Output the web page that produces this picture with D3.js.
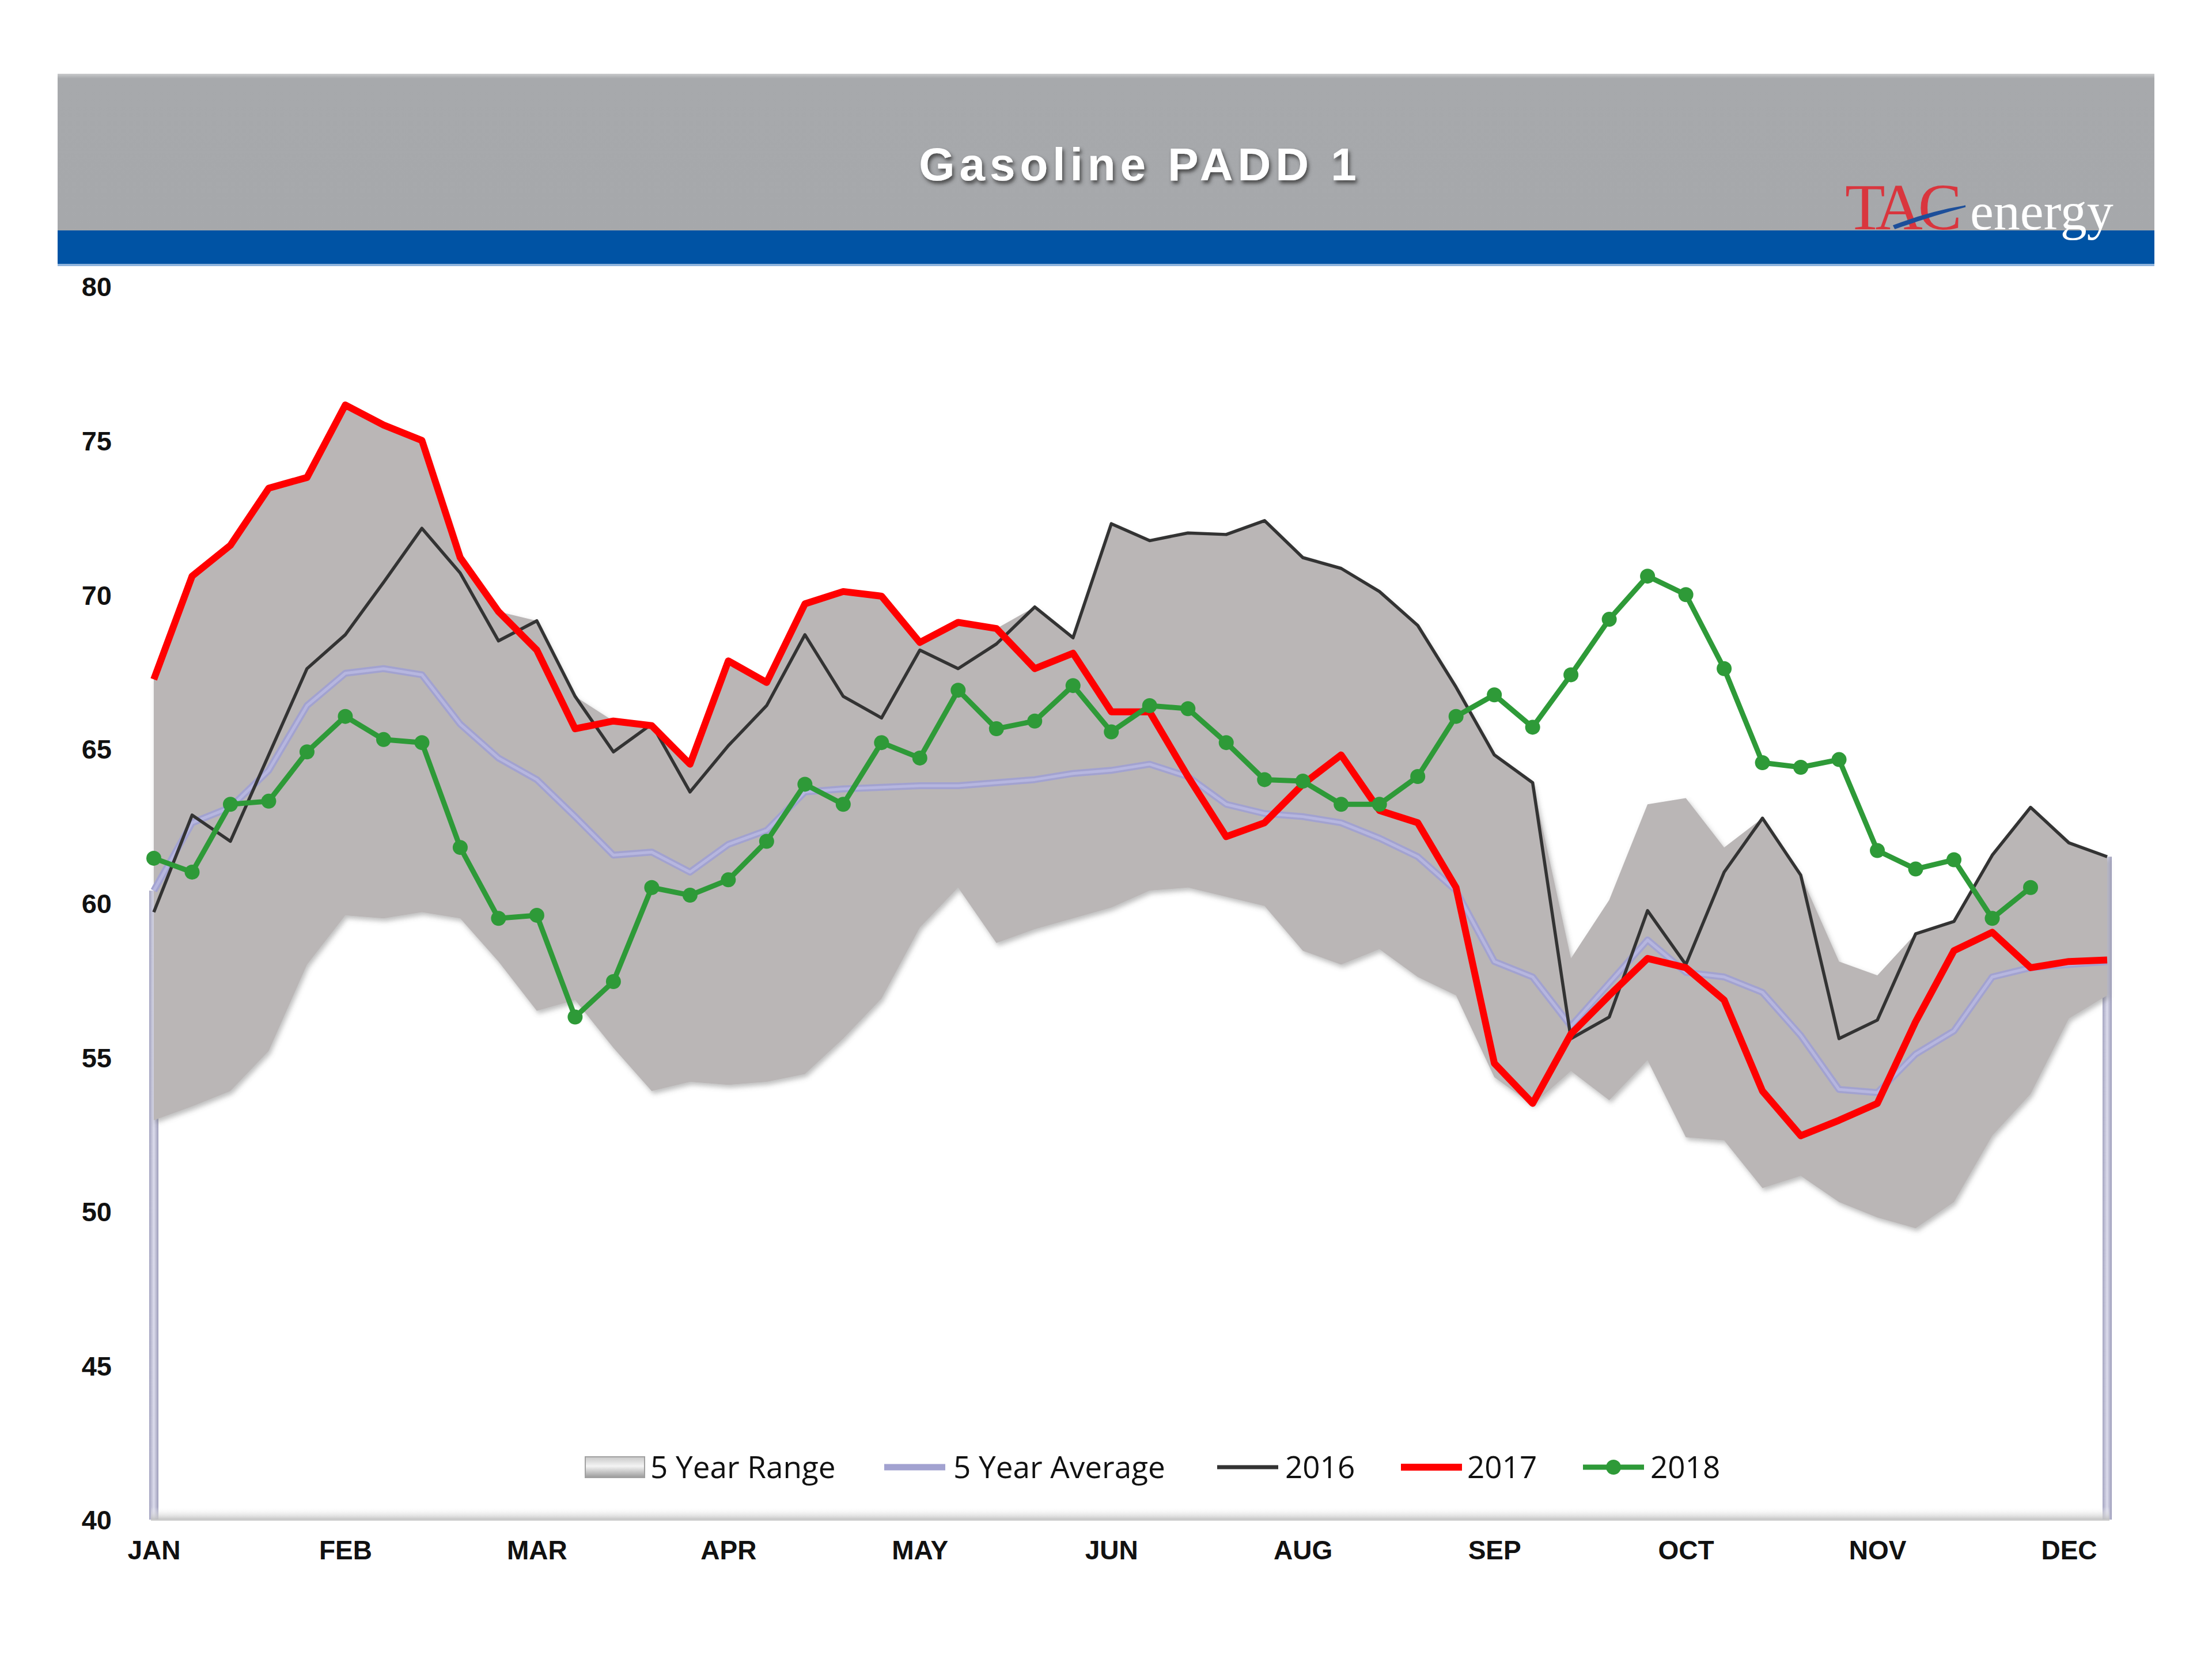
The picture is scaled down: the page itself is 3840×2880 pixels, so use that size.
<!DOCTYPE html>
<html><head><meta charset="utf-8">
<script src="https://cdn.jsdelivr.net/npm/d3@7/dist/d3.min.js"></script>
<style>body{margin:0;background:#fff}svg{display:block}</style>
</head><body>
<svg id="chart" width="3840" height="2880"></svg>
<script>
const title = "Gasoline PADD 1";
const weeks = [1,2,3,4,5,6,7,8,9,10,11,12,13,14,15,16,17,18,19,20,21,22,23,24,25,26,27,28,29,30,31,32,33,34,35,36,37,38,39,40,41,42,43,44,45,46,47,48,49,50,51,52];
const tickWeeks = [1,6,11,16,21,26,31,36,41,46,51];
const tickLabels = ["JAN","FEB","MAR","APR","MAY","JUN","AUG","SEP","OCT","NOV","DEC"];
const yTicks = [40,45,50,55,60,65,70,75,80];

const rangeLow = [52.95,53.4,53.9,55.2,58.0,59.6,59.5,59.7,59.5,58.1,56.5,56.85,55.3,53.9,54.2,54.1,54.2,54.45,55.6,56.9,59.2,60.5,58.7,59.15,59.5,59.85,60.4,60.5,60.2,59.9,58.45,58.0,58.5,57.6,57.0,54.35,53.45,54.55,53.6,54.9,52.4,52.3,50.75,51.15,50.3,49.8,49.45,50.3,52.45,53.8,56.25,57.0];
const rangeHigh = [67.25,70.6,71.6,73.45,73.8,76.15,75.5,75.0,71.2,69.45,69.15,66.7,65.9,65.8,64.5,67.85,67.15,69.7,70.1,69.95,68.45,69.1,68.9,69.6,68.6,72.3,71.75,72.0,71.95,72.4,71.2,70.85,70.1,69.0,67.0,64.8,63.9,58.2,60.1,63.2,63.4,61.8,62.75,60.9,58.1,57.65,59.0,59.4,61.55,63.1,61.95,61.5];
const avg5 = [60.4,62.6,63.1,64.3,66.4,67.45,67.6,67.4,65.8,64.7,64.0,62.8,61.55,61.65,61.0,61.9,62.35,63.6,63.7,63.75,63.8,63.8,63.9,64.0,64.2,64.3,64.5,64.1,63.2,62.9,62.8,62.6,62.1,61.5,60.4,58.1,57.6,56.0,57.4,58.8,57.75,57.6,57.1,55.7,53.95,53.85,55.1,55.85,57.6,57.9,58.0,58.1];
const y2016 = [59.7,62.85,62.0,64.8,67.6,68.7,70.4,72.15,70.7,68.5,69.15,66.7,64.9,65.8,63.6,65.1,66.4,68.7,66.7,66.0,68.2,67.6,68.4,69.6,68.6,72.3,71.75,72.0,71.95,72.4,71.2,70.85,70.1,69.0,67.0,64.8,63.9,55.6,56.3,59.75,58.0,61.0,62.75,60.9,55.6,56.2,59.0,59.4,61.55,63.1,61.95,61.5];
const y2017 = [67.25,70.6,71.6,73.45,73.8,76.15,75.5,75.0,71.2,69.45,68.2,65.65,65.9,65.75,64.5,67.85,67.15,69.7,70.1,69.95,68.45,69.1,68.9,67.6,68.1,66.2,66.2,64.1,62.15,62.6,63.85,64.8,63.0,62.6,60.5,54.8,53.5,55.75,57.0,58.2,57.9,56.85,53.9,52.45,52.95,53.5,56.15,58.45,59.05,57.9,58.1,58.15];
const y2018 = [61.45,61.0,63.2,63.3,64.9,66.05,65.3,65.2,61.8,59.5,59.6,56.3,57.45,60.5,60.25,60.75,62.0,63.85,63.2,65.2,64.7,66.9,65.65,65.9,67.05,65.55,66.4,66.3,65.2,64.0,63.95,63.2,63.2,64.1,66.05,66.75,65.7,67.4,69.2,70.6,70.0,67.6,64.55,64.4,64.65,61.7,61.1,61.4,59.5,60.5];
const legendNames = ["5 Year Range","5 Year Average","2016","2017","2018"];

const svg = d3.select("#chart");
const defs = svg.append("defs");

// ---------- header ----------
const hg = defs.append("linearGradient").attr("id","hdr").attr("x1",0).attr("y1",0).attr("x2",0).attr("y2",1);
hg.append("stop").attr("offset",0).attr("stop-color","#c9cacc");
hg.append("stop").attr("offset",0.03).attr("stop-color","#a7a9ac");
hg.append("stop").attr("offset",1).attr("stop-color","#a6a8ab");
svg.append("rect").attr("x",100).attr("y",128).attr("width",3640).attr("height",274).attr("fill","url(#hdr)");
svg.append("rect").attr("x",100).attr("y",400).attr("width",3640).attr("height",62).attr("fill","#0053a4");
svg.append("rect").attr("x",100).attr("y",458).attr("width",3640).attr("height",4).attr("fill","#8fb3dc");

const ts = defs.append("filter").attr("id","tshadow").attr("x","-10%").attr("y","-30%").attr("width","130%").attr("height","170%");
ts.append("feDropShadow").attr("dx",3).attr("dy",5).attr("stdDeviation",3).attr("flood-color","#3a3a3a").attr("flood-opacity",0.85);
svg.append("text").attr("x",1979).attr("y",313).attr("text-anchor","middle")
  .attr("font-family","Liberation Sans, Arial, sans-serif").attr("font-weight","bold").attr("font-size",80)
  .attr("letter-spacing",8).attr("fill","#ffffff").attr("filter","url(#tshadow)").text(title);

// logo
const logo = svg.append("g");
logo.append("text").attr("x",3203).attr("y",398).attr("font-family","Liberation Serif, Times New Roman, serif")
  .attr("font-size",114).attr("letter-spacing",-8).attr("fill","#d9363e").text("TAC");
logo.append("text").attr("x",3420).attr("y",398).attr("font-family","Liberation Serif, Times New Roman, serif")
  .attr("font-size",92).attr("fill","#ffffff").text("energy");
logo.append("path").attr("d","M3288,392 Q3350,368 3412,358 Q3352,374 3290,396 Z").attr("fill","#1d4f9a").attr("stroke","#1d4f9a").attr("stroke-width",3);

// ---------- scales ----------
const x = d3.scalePoint().domain(weeks).range([267,3658]);
const y = d3.scaleLinear().domain([40,80]).range([2638,497]);

// end bars (Excel artefacts of the range base)
const barG = defs.append("linearGradient").attr("id","bar").attr("x1",0).attr("x2",1).attr("y1",0).attr("y2",0);
barG.append("stop").attr("offset",0).attr("stop-color","#a4a4c0");
barG.append("stop").attr("offset",0.5).attr("stop-color","#dcdcec");
barG.append("stop").attr("offset",1).attr("stop-color","#9c9cba");
svg.append("rect").attr("x",x(weeks[0])-8).attr("width",16).attr("y",y(avg5[0])).attr("height",y(40)-y(avg5[0])).attr("fill","url(#bar)");
svg.append("rect").attr("x",x(weeks[51])-8).attr("width",16).attr("y",y(rangeHigh[51])).attr("height",y(40)-y(rangeHigh[51])).attr("fill","url(#bar)");

// bottom shadow of plot
const bs = defs.append("linearGradient").attr("id","bshadow").attr("x1",0).attr("x2",0).attr("y1",0).attr("y2",1);
bs.append("stop").attr("offset",0).attr("stop-color","#ffffff").attr("stop-opacity",0);
bs.append("stop").attr("offset",1).attr("stop-color","#b9b9b9").attr("stop-opacity",1);
svg.append("rect").attr("x",262).attr("y",2616).attr("width",3400).attr("height",24).attr("fill","url(#bshadow)");
svg.append("line").attr("x1",262).attr("x2",3662).attr("y1",2639).attr("y2",2639).attr("stroke","#d0d0d0").attr("stroke-width",2);

// ---------- range area ----------
const as = defs.append("filter").attr("id","ashadow").attr("x","-5%").attr("y","-10%").attr("width","110%").attr("height","120%");
as.append("feDropShadow").attr("dx",3).attr("dy",5).attr("stdDeviation",4).attr("flood-color","#707070").attr("flood-opacity",0.45);
const area = d3.area().x((d,i)=>x(weeks[i])).y0((d,i)=>y(rangeLow[i])).y1(d=>y(d));
svg.append("path").datum(rangeHigh).attr("d",area).attr("fill","#bab6b6").attr("filter","url(#ashadow)");

const line = d3.line().x((d,i)=>x(weeks[i])).y(d=>y(d));
svg.append("path").datum(avg5).attr("d",line).attr("fill","none").attr("stroke","#a2a2d0").attr("stroke-width",12).attr("stroke-linejoin","round");
svg.append("path").datum(avg5).attr("d",line).attr("fill","none").attr("stroke","#b6b6df").attr("stroke-width",5).attr("stroke-linejoin","round");
svg.append("path").datum(y2016).attr("d",line).attr("fill","none").attr("stroke","#333333").attr("stroke-width",5.5).attr("stroke-linejoin","round");
svg.append("path").datum(y2017).attr("d",line).attr("fill","none").attr("stroke","#ff0000").attr("stroke-width",12).attr("stroke-linejoin","round");
svg.append("path").datum(y2018).attr("d",line).attr("fill","none").attr("stroke","#2e9a38").attr("stroke-width",9).attr("stroke-linejoin","round");
svg.append("g").selectAll("circle").data(y2018).join("circle")
  .attr("cx",(d,i)=>x(weeks[i])).attr("cy",d=>y(d)).attr("r",13).attr("fill","#2e9a38");

// ---------- axes ----------
const yAxis = d3.axisLeft(y).tickValues(yTicks).tickSize(0).tickPadding(0);
const gy = svg.append("g").attr("transform","translate(194,0)").call(yAxis);
gy.select(".domain").remove();
gy.selectAll("text").attr("font-family","Liberation Sans, Arial, sans-serif").attr("font-weight","bold")
  .attr("font-size",47).attr("fill","#111").attr("dy","0.36em");

const xAxis = d3.axisBottom(x).tickValues(tickWeeks).tickFormat((d,i)=>tickLabels[i]).tickSize(0).tickPadding(0);
const gx = svg.append("g").attr("transform","translate(0,2690)").call(xAxis);
gx.select(".domain").remove();
gx.selectAll("text").attr("font-family","Liberation Sans, Arial, sans-serif").attr("font-weight","bold")
  .attr("font-size",46).attr("fill","#111").attr("dy","0.36em");

// ---------- legend ----------
const lg = svg.append("g").attr("font-family","Open Sans, Noto Sans, sans-serif").attr("font-size",53).attr("fill","#111");
const ly = 2547;
const sw = defs.append("linearGradient").attr("id","swatch").attr("x1",0).attr("x2",0).attr("y1",0).attr("y2",1);
sw.append("stop").attr("offset",0).attr("stop-color","#c8c8c8");
sw.append("stop").attr("offset",0.45).attr("stop-color","#f4f4f4");
sw.append("stop").attr("offset",1).attr("stop-color","#9a9a9a");
lg.append("rect").attr("x",1016).attr("y",ly-18).attr("width",103).attr("height",36).attr("fill","url(#swatch)").attr("stroke","#a0a0a0").attr("stroke-width",2);
const items = [
  {sx:1535, tx:1655, color:"#a2a2d0", w:11},
  {sx:2113, tx:2231, color:"#333333", w:7},
  {sx:2432, tx:2547, color:"#ff0000", w:12},
  {sx:2748, tx:2865, color:"#2e9a38", w:9}
];
lg.append("text").attr("x",1129).attr("y",ly).attr("dy","0.36em").text(legendNames[0]);
items.forEach((it,k)=>{
  lg.append("line").attr("x1",it.sx).attr("x2",it.sx+106).attr("y1",ly).attr("y2",ly).attr("stroke",it.color).attr("stroke-width",it.w);
  if(k===3) lg.append("circle").attr("cx",it.sx+53).attr("cy",ly).attr("r",13).attr("fill",it.color);
  lg.append("text").attr("x",it.tx).attr("y",ly).attr("dy","0.36em").text(legendNames[k+1]);
});
</script>
</body></html>
